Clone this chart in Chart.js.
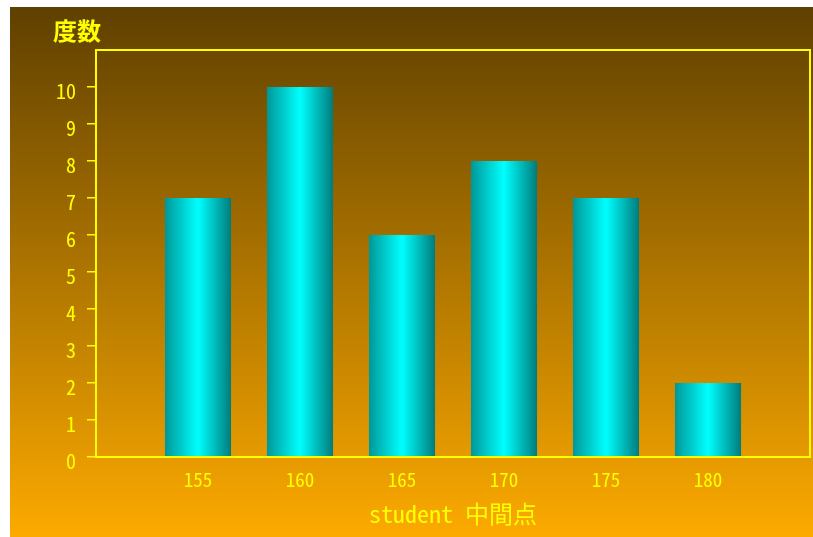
<!DOCTYPE html>
<html>
<head>
<meta charset="utf-8">
<script src="https://cdn.jsdelivr.net/npm/chart.js@4.4.1/dist/chart.umd.min.js"></script>
<style>
  html, body { margin: 0; padding: 0; background: #ffffff; }
  #wrap { position: absolute; left: 10px; top: 7px; width: 803px; height: 530px; }
</style>
</head>
<body>
<div id="wrap"><canvas id="c" width="803" height="530"></canvas></div>
<script>
// class midpoints (cm) and how many students fall in each class
const midpoints = [155, 160, 165, 170, 175, 180];
const counts = [7, 10, 6, 8, 7, 2];
const yTicks = [0, 1, 2, 3, 4, 5, 6, 7, 8, 9, 10];
const xRange = [150, 185];
const yRange = [0, 11];

const YELLOW = '#ffff00';
const CAT_PCT = 0.8;
const BAR_PCT = 0.81;
const TICK_FONT = "'Noto Sans Mono CJK JP', 'Liberation Mono', monospace";

// warm brown-to-orange backdrop for the whole canvas
const backdrop = {
  id: 'backdrop',
  beforeDraw(chart) {
    const { ctx, width, height } = chart;
    const g = ctx.createLinearGradient(0, 0, 0, height);
    g.addColorStop(0, '#5f4000');
    g.addColorStop(1, '#fdaa00');
    ctx.save();
    ctx.fillStyle = g;
    ctx.fillRect(0, 0, width, height);
    ctx.restore();
  }
};

// yellow frame around the plotting area, drawn on top of the bars
const frame = {
  id: 'frame',
  afterDatasetsDraw(chart) {
    const { ctx, chartArea: a } = chart;
    ctx.save();
    ctx.strokeStyle = YELLOW;
    ctx.lineWidth = 2;
    ctx.strokeRect(a.left, a.top, a.right - a.left, a.bottom - a.top);
    ctx.restore();
  }
};

// cylinder-like shading across each bar
function barShade(c) {
  const chart = c.chart;
  const xs = chart.scales.x;
  if (!chart.chartArea || !xs || c.raw == null) return '#00cccc';
  const cx = xs.getPixelForValue(c.raw.x);
  const step = Math.abs(xs.getPixelForValue(midpoints[1]) - xs.getPixelForValue(midpoints[0]));
  const half = step * CAT_PCT * BAR_PCT / 2;
  const g = chart.ctx.createLinearGradient(cx - half, 0, cx + half, 0);
  g.addColorStop(0, '#009797');
  g.addColorStop(0.5, '#00ffff');
  g.addColorStop(1, '#007c7c');
  return g;
}

new Chart(document.getElementById('c'), {
  type: 'bar',
  data: {
    datasets: [{
      data: midpoints.map((m, i) => ({ x: m, y: counts[i] })),
      backgroundColor: barShade,
      borderWidth: 0,
      categoryPercentage: CAT_PCT,
      barPercentage: BAR_PCT
    }]
  },
  plugins: [backdrop, frame],
  options: {
    responsive: false,
    animation: false,
    layout: { padding: { left: 43, right: 3, top: 0, bottom: 0 } },
    plugins: {
      legend: { display: false },
      tooltip: { enabled: false },
      title: {
        display: true,
        text: '度数',
        align: 'start',
        color: YELLOW,
        font: { family: "'Noto Sans CJK JP', sans-serif", size: 24, weight: 'bold', lineHeight: 1.2 },
        padding: { top: 9.6, bottom: 4.6 }
      }
    },
    scales: {
      x: {
        type: 'linear',
        min: xRange[0],
        max: xRange[1],
        offset: false,
        afterFit(s) { s.height = 80; s.paddingLeft = 0; s.paddingRight = 0; },
        border: { display: false },
        grid: { display: true, drawOnChartArea: false, drawTicks: false, offset: false },
        ticks: {
          stepSize: 5,
          color: YELLOW,
          padding: 11,
          maxRotation: 0,
          font: { family: TICK_FONT, size: 19 },
          callback: v => (midpoints.includes(v) ? String(v) : '')
        },
        title: {
          display: true,
          text: 'student 中間点',
          color: YELLOW,
          font: { family: "'Noto Sans Mono CJK JP', 'Liberation Mono', 'Noto Sans CJK JP', monospace", size: 24, lineHeight: 1.2 },
          padding: { top: 0, bottom: 9 }
        }
      },
      y: {
        min: yRange[0],
        max: yRange[1],
        afterFit(s) { s.width = 43; },
        afterBuildTicks(s) { s.ticks = yTicks.concat([yRange[1]]).map(v => ({ value: v })); },
        border: { display: false },
        grid: {
          drawOnChartArea: false,
          drawTicks: true,
          tickLength: 9,
          lineWidth: 1.5,
          color: c => (c.tick && yTicks.includes(c.tick.value) ? YELLOW : 'rgba(0,0,0,0)')
        },
        ticks: {
          color: YELLOW,
          padding: 11,
          labelOffset: 4,
          font: { family: TICK_FONT, size: 20 },
          callback: v => (yTicks.includes(v) ? String(v) : '')
        }
      }
    }
  }
});
</script>
</body>
</html>
